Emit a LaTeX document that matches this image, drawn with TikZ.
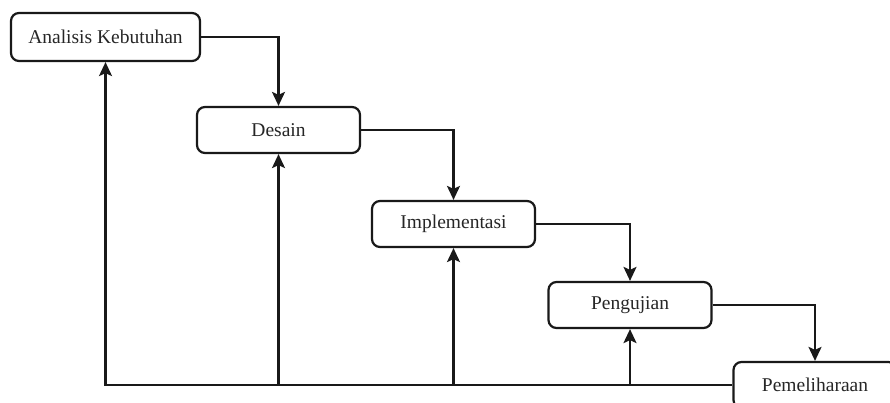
\documentclass[tikz,border=0pt]{standalone}
\usepackage{fontspec}
\setmainfont{Liberation Serif}
\usetikzlibrary{arrows.meta}
\begin{document}
\begin{tikzpicture}[x=1pt,y=-1pt,
  phase/.style={draw=black!90, line width=2.2pt, rounded corners=8pt, fill=white,
    minimum width=163pt, minimum height=46pt, inner sep=0pt,
    font=\fontsize{19.5}{23}\selectfont, text=black!85},
  flow/.style={draw=black!90, line width=2.2pt,
    -{Stealth[length=14pt,width=13pt,inset=3pt]}}]
\useasboundingbox (0,0) rectangle (890,403);
\clip (0,0) rectangle (890,403);
\fill[white] (0,0) rectangle (890,403);

% waterfall phases
\node[phase, minimum width=189pt, minimum height=48pt] (ak) at (105.5,37) {Analisis Kebutuhan};
\node[phase] (des) at (278.5,130) {Desain};
\node[phase] (imp) at (453.5,224) {Implementasi};
\node[phase] (pen) at (630,305) {Pengujian};
\node[phase] (pem) at (815,385) {Pemeliharaan};

% forward flow between phases
\draw[flow] (ak.east) -| (des.north);
\draw[flow] (des.east) -| (imp.north);
\draw[flow] (imp.east) -| (pen.north);
\draw[flow] (pen.east) -| (pem.north);

% feedback along the bottom line
\draw[flow] (pem.west) -| (ak.south);
\draw[flow] (des.south |- pem.west) -- (des.south);
\draw[flow] (imp.south |- pem.west) -- (imp.south);
\draw[flow] (pen.south |- pem.west) -- (pen.south);
\end{tikzpicture}
\end{document}
